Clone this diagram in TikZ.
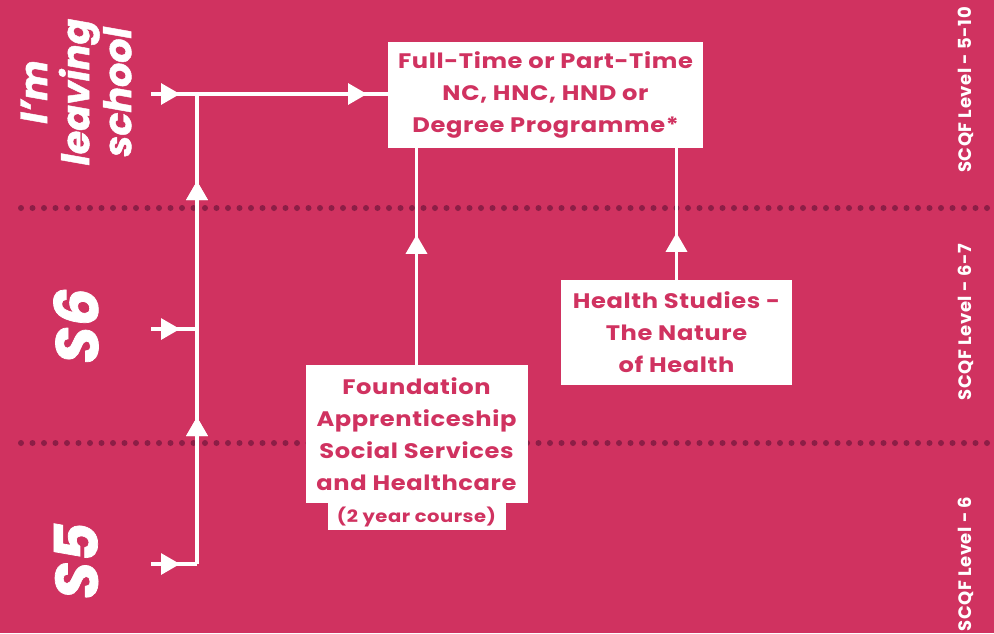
\documentclass[tikz,border=0pt]{standalone}
\usepackage{fontspec}
\setmainfont{Poppins}
\newfontfamily\boxfont{Poppins}[FakeStretch=1.15, LetterSpace=3]
\newfontfamily\levelfont{Poppins}[LetterSpace=3]
\newfontfamily\heavyfont{Poppins}[BoldItalicFeatures={FakeBold=1.2}]
\usetikzlibrary{arrows.meta,decorations.markings}

\definecolor{pagepink}{RGB}{208,50,96}
\definecolor{dotmaroon}{RGB}{140,30,70}

\tikzset{
  course/.style={fill=white, text=pagepink, align=center, inner sep=0pt,
    font=\fontsize{21}{32}\boxfont\bfseries},
  year/.style={rotate=90, text=white, align=center,
    font=\fontsize{60}{60}\heavyfont\bfseries\itshape},
  level/.style={rotate=90, text=white, font=\fontsize{18}{18}\levelfont\bfseries},
  flow/.style={white, line width=3.2pt},
  tipat/.style={postaction=decorate, decoration={markings,
    mark=at position #1 with {\arrow{Triangle[length=19pt,width=21pt]}}}},
}

\begin{document}
\begin{tikzpicture}[x=1pt,y=-1pt]
    \useasboundingbox (0,0) rectangle (994,633);
    \fill[pagepink] (0,0) rectangle (994,633);
    % level separators
    \foreach \y in {208,443}
        \foreach \i in {0,...,84}
            \fill[dotmaroon] (21+11.5*\i,\y) circle (3pt);

    % year labels
    \node[year, font=\fontsize{38}{42}\heavyfont\bfseries\itshape] (leaving) at (76,92) {I’m\\leaving\\school};
    \node[year] (s6) at (76,326) {S6};
    \node[year] (s5) at (76,561) {S5};

    % SCQF levels
    \node[level] (lvltop) at (966,90) {SCQF Level - 5-10};
    \node[level] (lvlmid) at (966,322) {SCQF Level - 6-7};
    \node[level] (lvllow) at (966,564) {SCQF Level - 6};

    % courses
    \node[course, minimum width=315pt, minimum height=106pt] (degree) at (545.5,95)
        {Full-Time or Part-Time\\NC, HNC, HND or\\Degree Programme*};
    \node[course, minimum width=222pt, minimum height=138pt] (found) at (416.5,434)
        {Foundation\\Apprenticeship\\Social Services\\and Healthcare};
    \node[course, minimum width=178pt, minimum height=27pt,
          font=\fontsize{17}{18}\boxfont\bfseries] (twoyear) at (416.5,516.5) {(2 year course)};
    \node[course, minimum width=231pt, minimum height=105pt] (health) at (676.5,332.5)
        {Health Studies -\\The Nature\\of Health};

    % entry points
    \coordinate (in5) at (151,564);
    \coordinate (in6) at (151,329);
    \coordinate (inleave) at (151,94);
    \coordinate (j5) at (197,564);
    \coordinate (j6) at (197,329);
    \coordinate (jleave) at (197,94);

    \draw[flow, tipat=29pt] (in5) -- (j5);
    \draw[flow, tipat=29pt] (in6) -- (j6);
    \draw[flow, tipat=29pt] (inleave) -- (jleave);
    \draw[flow, tipat=147pt, tipat=383pt] (j5) -- (jleave);
    \draw[flow, tipat=170pt] (jleave) -- (jleave -| degree.west);
    \draw[flow, tipat=130pt] (found.north) -- (found.north |- degree.south);
    \draw[flow, tipat=47pt] (health.north) -- (health.north |- degree.south);
\end{tikzpicture}
\end{document}
